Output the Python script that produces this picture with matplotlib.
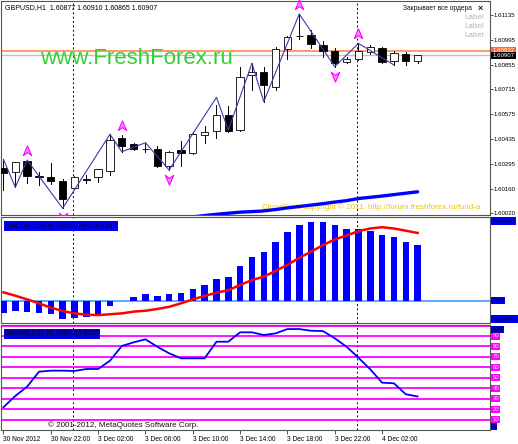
#!/usr/bin/env python3
"""GBPUSD H1 chart, MT4 style: candles + zigzag, MACD and Stochastic panels"""

import matplotlib
matplotlib.use('Agg')
import matplotlib.pyplot as plt
from matplotlib.path import Path
from matplotlib.patches import Rectangle
from matplotlib.transforms import offset_copy

plt.rcParams['font.family'] = ['Liberation Sans', 'DejaVu Sans']

# ---- data (30 Nov 18:00 .. 4 Dec 05:00, one bar per hour) ----
opens = [1.60270, 1.60247, 1.60312, 1.60226, 1.60219, 1.60198, 1.60157, 1.60212, 1.60218, 1.60256,
         1.60439, 1.60404, 1.60381, 1.60381, 1.60280, 1.60373, 1.60354, 1.60460, 1.60480, 1.60571,
         1.60483, 1.60796, 1.60815, 1.60731, 1.60941, 1.61015, 1.61022, 1.60966, 1.60932, 1.60871,
         1.60885, 1.60928, 1.60947, 1.60875, 1.60915, 1.60877]
highs = [1.60320, 1.60308, 1.60318, 1.60250, 1.60298, 1.60208, 1.60224, 1.60232, 1.60268, 1.60462,
         1.60460, 1.60411, 1.60414, 1.60393, 1.60370, 1.60424, 1.60475, 1.60506, 1.60627, 1.60620,
         1.60843, 1.60862, 1.60843, 1.60956, 1.61016, 1.61141, 1.61050, 1.60988, 1.60947, 1.60898,
         1.60975, 1.60966, 1.60956, 1.60933, 1.60928, 1.60910]
lows = [1.60147, 1.60162, 1.60188, 1.60175, 1.60179, 1.60044, 1.60153, 1.60187, 1.60192, 1.60229,
        1.60363, 1.60373, 1.60363, 1.60277, 1.60260, 1.60283, 1.60350, 1.60412, 1.60443, 1.60476,
        1.60480, 1.60712, 1.60646, 1.60712, 1.60885, 1.60997, 1.60950, 1.60900, 1.60843, 1.60862,
        1.60881, 1.60915, 1.60866, 1.60853, 1.60853, 1.60865]
closes = [1.60245, 1.60303, 1.60226, 1.60219, 1.60198, 1.60095, 1.60219, 1.60206, 1.60264, 1.60432,
          1.60396, 1.60379, 1.60377, 1.60284, 1.60364, 1.60354, 1.60462, 1.60476, 1.60571, 1.60480,
          1.60783, 1.60815, 1.60740, 1.60941, 1.61011, 1.61018, 1.60970, 1.60932, 1.60866, 1.60885,
          1.60933, 1.60956, 1.60871, 1.60919, 1.60875, 1.60907]

zz_bars = [0, 1, 2, 5, 9, 10, 12, 14, 18, 19, 21, 22, 25, 28, 30, 33]
zz_prices = [1.60320, 1.60162, 1.60316, 1.60044, 1.60462, 1.60363, 1.60414, 1.60260, 1.60670,
             1.60486, 1.60862, 1.60646, 1.61141, 1.60843, 1.60975, 1.60853]

up_arrow_bars = [2, 10, 25, 30]
down_arrow_bars = [5, 14, 28]

ma_bars = list(range(16, 36))
ma_vals = [1.59995, 1.60003, 1.60010, 1.60016, 1.60022, 1.60025, 1.60029, 1.60037, 1.60046, 1.60054,
           1.60062, 1.60070, 1.60079, 1.60087, 1.60099, 1.60106, 1.60113, 1.60121, 1.60129, 1.60137]

macd_hist = [-0.000288, -0.000235, -0.000250, -0.000274, -0.000310, -0.000410, -0.000396, -0.000380,
             -0.000305, -0.000120, -0.000010, 0.000078, 0.000146, 0.000107, 0.000146, 0.000176,
             0.000267, 0.000359, 0.000496, 0.000535, 0.000793, 0.001006, 0.001120, 0.001350,
             0.001570, 0.001730, 0.001790, 0.001790, 0.001730, 0.001650, 0.001630, 0.001600,
             0.001510, 0.001450, 0.001350, 0.001270]
macd_signal = [0.000190, 0.000114, 0.000030, -0.000060, -0.000160, -0.000236, -0.000290, -0.000320,
               -0.000330, -0.000310, -0.000290, -0.000250, -0.000230, -0.000190, -0.000140, -0.000060,
               0.000030, 0.000110, 0.000180, 0.000240, 0.000360, 0.000470, 0.000550, 0.000680,
               0.000820, 0.000980, 0.001120, 0.001270, 0.001400, 0.001490, 0.001590, 0.001650,
               0.001680, 0.001650, 0.001600, 0.001548]

stoch = [21.8, 32.6, 41.5, 55.8, 56.8, 56.8, 56.5, 58.4, 58.4, 66.3, 80.4, 83.9, 86.8, 79.7, 73.4,
         68.6, 68.6, 68.6, 84.5, 84.5, 93.5, 93.5, 90.9, 92.5, 96.6, 96.6, 95.0, 94.7, 87.8, 79.7,
         69.2, 58.1, 45.3, 44.7, 34.2, 32.1]
stoch_levels = [10, 20, 30, 40, 50, 60, 70, 80, 90, 100]

price_ticks = [1.61135, 1.60995, 1.60855, 1.60715, 1.60575, 1.60435, 1.60295, 1.60155, 1.60020]
price_tick_labels = ['1.61135', '1.60995', '1.60855', '1.60715', '1.60575', '1.60435', '1.60295',
                     '1.60160', '1.60020']
time_tick_bars = [0, 4, 8, 12, 16, 20, 24, 28, 32]
time_tick_labels = ['30 Nov 2012', '30 Nov 22:00', '3 Dec 02:00', '3 Dec 06:00', '3 Dec 10:00',
                    '3 Dec 14:00', '3 Dec 18:00', '3 Dec 22:00', '4 Dec 02:00']
day_sep_bars = [6, 30]
bid_price = 1.60907
order_price = 1.60930

# ---- layout ----
W, H = 518, 444
fig = plt.figure(figsize=(W / 100, H / 100), dpi=100)
fig.patch.set_facecolor('white')


def px_axes(x0, y0, x1, y1):
    return fig.add_axes([x0 / W, 1 - y1 / H, (x1 - x0) / W, (y1 - y0) / H])


ax1 = px_axes(1, 1, 490, 215)
ax2 = px_axes(1, 217, 490, 323)
ax3 = px_axes(1, 325, 490, 430)

XLIM = (-0.21, 41.12)
FS = 4.8     # general small text
FSR = 4.4    # right scale labels
for ax in (ax1, ax2, ax3):
    ax.set_xlim(*XLIM)
    ax.set_facecolor('white')
    for s in ax.spines.values():
        s.set_color('#555555')
        s.set_linewidth(0.8)
    ax.tick_params(axis='x', bottom=False, labelbottom=False)
    for b in day_sep_bars:
        ax.axvline(b - 0.1, color='black', lw=0.7, linestyle=(0, (2, 2.5)), zorder=1)


def right_label(ax, val, txt, fc, tc):
    ax.annotate(txt, xy=(1, val), xycoords=('axes fraction', 'data'), xytext=(2.5, 0),
                textcoords='offset pixels', ha='left', va='center', fontsize=FSR, color=tc,
                bbox=dict(boxstyle='square,pad=0.18', fc=fc, ec='none'), annotation_clip=False,
                zorder=6)


# ---- price panel ----
ax1.set_ylim(1.60006, 1.61214)
ax1.yaxis.tick_right()
ax1.set_yticks(price_ticks)
ax1.set_yticklabels(price_tick_labels)
ax1.tick_params(axis='y', length=2, width=0.6, pad=0.8, labelsize=FSR, color='#333333')

ax1.axhline(order_price, color='#FF7F40', lw=1.1, zorder=2)
ax1.axhline(bid_price, color='#C0C0C0', lw=0.9, zorder=2)

ax1.plot(ma_bars, ma_vals, color='#0000FF', lw=2.4, zorder=3, solid_capstyle='round')

body_w = 0.62
for i, (o, h, l, c) in enumerate(zip(opens, highs, lows, closes)):
    ax1.plot([i, i], [l, h], color='black', lw=0.7, zorder=4)
    bottom = min(o, c)
    height = max(abs(c - o), 0.000012)
    fc = 'white' if c >= o else 'black'
    ax1.add_patch(Rectangle((i - body_w / 2, bottom), body_w, height, facecolor=fc,
                            edgecolor='black', lw=0.6, zorder=5))

ax1.plot(zz_bars, zz_prices, color='#3A3AB0', lw=0.8, zorder=6)

arrow_up = Path([(0, 1), (0.75, -0.75), (0, -0.2), (-0.75, -0.75), (0, 1)],
                [Path.MOVETO, Path.LINETO, Path.LINETO, Path.LINETO, Path.CLOSEPOLY])
arrow_dn = Path([(0, -1), (0.75, 0.75), (0, 0.2), (-0.75, 0.75), (0, -1)],
                [Path.MOVETO, Path.LINETO, Path.LINETO, Path.LINETO, Path.CLOSEPOLY])
tr_up = offset_copy(ax1.transData, fig=fig, y=9, units='dots')
tr_dn = offset_copy(ax1.transData, fig=fig, y=-9, units='dots')
ax1.plot(up_arrow_bars, [highs[b] for b in up_arrow_bars], linestyle='none', marker=arrow_up,
         ms=8, mfc='#FF8CFF', mec='#FF00FF', mew=0.8, transform=tr_up, zorder=7, clip_on=False)
ax1.plot(down_arrow_bars, [lows[b] for b in down_arrow_bars], linestyle='none', marker=arrow_dn,
         ms=8, mfc='#FF8CFF', mec='#FF00FF', mew=0.8, transform=tr_dn, zorder=7)

right_label(ax1, order_price + 0.00004, '1.60932', '#FF6A2A', 'white')
right_label(ax1, bid_price, '1.60907', 'black', 'white')

fig.text(5 / W, 1 - 7.5 / H, 'GBPUSD,H1  1.60877 1.60910 1.60865 1.60907', fontsize=5.0,
         color='black', va='center', ha='left')
fig.text(40 / W, 1 - 58 / H, 'www.FreshForex.ru', fontsize=16, color='#35CF35',
         va='center', ha='left', zorder=8)
fig.text(403 / W, 1 - 8.5 / H, 'Закрывает все ордера', fontsize=FS, color='#111111',
         va='center', ha='left')
fig.text(478 / W, 1 - 8.5 / H, '×', fontsize=6.5, color='#222222', fontweight='bold',
         va='center', ha='left')
for k in range(3):
    fig.text(484 / W, 1 - (17.5 + 8.8 * k) / H, 'Label', fontsize=5.8, color='#B4B4B4',
             va='center', ha='right')
ax1.text(261 / 489 * (XLIM[1] - XLIM[0]) + XLIM[0], 1.60050,
         'CloseProfit copyright © 2011, http://forum.freshforex.ru/fund-a', fontsize=5.8,
         color='#EAC800', va='center', ha='left', zorder=2)

# ---- MACD panel ----
ax2.set_ylim(-0.00051, 0.001913)
ax2.set_yticks([])
bars = list(range(len(macd_hist)))
ax2.bar(bars, macd_hist, width=0.55, color='#0000FF', zorder=3)
ax2.axhline(0, color='#3C9CFF', lw=1.2, zorder=2)
ax2.plot(bars, macd_signal, color='#FF0000', lw=1.8, zorder=4)
ax2.text(0.008, 0.915, 'MACD(12,26,9) 0.001270 0.001548', transform=ax2.transAxes,
         fontsize=5.0, color='#000022', va='center', ha='left',
         bbox=dict(boxstyle='square,pad=0.2', fc='#0000F0', ec='none'))
right_label(ax2, 0.00182, '0.00189', '#0000F0', '#000022')
right_label(ax2, 0.0, '0.00', '#0000F0', '#000022')
right_label(ax2, -0.00042, '-0.00049', '#0000F0', '#000022')

# ---- Stochastic panel ----
ax3.set_ylim(0, 100.5)
ax3.set_yticks([])
for lv in stoch_levels:
    ax3.axhline(lv, color='#FF00FF', lw=1.3, zorder=2)
    if lv < 100:
        right_label(ax3, lv, str(lv), '#FF00FF', '#FFD0FF')
ax3.plot(range(len(stoch)), stoch, color='#0000FF', lw=1.3, zorder=4)
ax3.text(0.008, 0.915, 'Stoch(8,3,5) 32.1492 36.9555', transform=ax3.transAxes,
         fontsize=5.0, color='#000022', va='center', ha='left',
         bbox=dict(boxstyle='square,pad=0.2', fc='#0000E0', ec='none'))
right_label(ax3, 96.5, '100', '#0000C8', '#000022')
right_label(ax3, 3.0, '0', '#0000C8', '#000022')
ax3.text(0.096, 0.01, '© 2001-2012, MetaQuotes Software Corp.', transform=ax3.transAxes,
         fontsize=5.8, color='#111111', va='bottom', ha='left')

ax3.set_xticks(time_tick_bars)
ax3.set_xticklabels(time_tick_labels, ha='left')
ax3.tick_params(axis='x', bottom=True, labelbottom=True, length=3, width=0.6, pad=1.5,
                labelsize=FS, color='#333333')

fig.savefig('out.png', dpi=100)
plt.close()
